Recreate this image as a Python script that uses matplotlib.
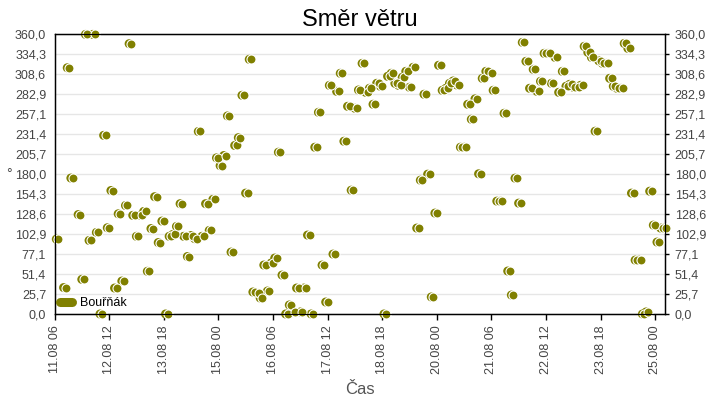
import matplotlib
matplotlib.use("Agg")
import matplotlib.pyplot as plt
from matplotlib.lines import Line2D
from matplotlib.transforms import offset_copy
import numpy as np
import pandas as pd

plt.rcParams['font.family'] = ['Liberation Sans', 'DejaVu Sans']

# hours since 11.08 06:00
hours = [1, 5, 7, 9, 13, 15, 17, 19, 21, 23, 25, 27, 29, 31, 33, 35, 37, 39, 41, 43,
         45, 47, 49, 51, 53, 55, 57, 59, 61, 63, 65, 67, 69, 71, 73, 75, 77, 79, 81, 83,
         85, 87, 89, 91, 93, 95, 97, 99, 101, 103, 105, 107, 109, 111, 113, 115, 117, 119, 121, 123,
         125, 127, 129, 131, 133, 135, 137, 139, 141, 143, 145, 147, 149, 151, 153, 155, 157, 159, 161, 163,
         165, 167, 169, 171, 173, 175, 177, 179, 181, 183, 185, 187, 189, 191, 193, 195, 197, 199, 201, 203,
         205, 207, 209, 211, 213, 215, 217, 219, 221, 223, 225, 227, 229, 231, 233, 235, 237, 239, 241, 243,
         245, 247, 249, 251, 253, 255, 257, 259, 261, 263, 265, 267, 269, 271, 273, 275, 277, 279, 281, 283,
         285, 287, 289, 291, 293, 295, 297, 299, 301, 303, 305, 307, 309, 311, 313, 315, 317, 319, 321, 323,
         325, 327, 329, 331, 333, 335]
direction = [96.4, 34, 317, 175, 128, 44.6, 360, 94.7, 360, 105, 0, 230, 111, 159, 33.4, 129, 42.4, 139.7, 348, 127,
             100, 127, 132, 55, 110, 151, 92, 119.6, 0, 100, 102.5, 112.8, 142, 100, 74, 101, 97, 235, 100, 142,
             107.6, 147.5, 201, 191, 204, 255, 79.7, 217, 227, 281.6, 155.6, 327.9, 28.3, 27, 20.6, 63, 29.6, 65.6, 72, 208.3,
             50.1, 0, 11.6, 2.6, 33.4, 2.6, 33.4, 101.6, 0, 214.7, 259.7, 63, 15.4, 294.4, 77.1, 286.7, 309.9, 222.4, 267.4, 159.4,
             264.9, 288.4, 322.7, 285.4, 290.6, 270, 297, 293.2, 0, 306, 309.9, 297, 294.4, 304.7, 312.4, 291.9, 317.6, 110.6, 172.3, 282.9,
             180, 21.9, 129.9, 320.2, 288, 290.6, 297, 300, 294.9, 214.7, 214.7, 270, 250.7, 276.9, 180.5, 303.4, 312.4, 309.9, 288, 145.3,
             145.3, 258.4, 55.3, 24.4, 174.9, 142.7, 349.7, 325.3, 290.6, 315, 286.7, 299.6, 335.6, 335.6, 297, 330.4, 285.4, 312.4, 293.2, 295.7,
             291.9, 291.9, 294.4, 344.6, 336.9, 330.4, 235.3, 326, 322.7, 322.7, 303.4, 293.2, 290.6, 290.6, 348.4, 342, 155.6, 69.4, 69.4, 0,
             2.6, 158.1, 114.4, 92.6, 110.6, 110.6]
series_name = "Bouřňák"
start = pd.Timestamp("2024-08-11 06:00")
tick_hours = [0, 30, 60, 90, 120, 150, 180, 210, 240, 270, 300, 330]
ytick_values = list(np.linspace(0, 360, 15))

times = [start + pd.Timedelta(hours=h) for h in hours]
olive = '#808000'
tcolor = '#444444'

fig = plt.figure(figsize=(7.2, 4.0), dpi=100)
ax = fig.add_axes([0.0757, 0.215, 0.8479, 0.699])

ax.scatter(times, direction, s=42, c=olive, edgecolors='none', zorder=3, clip_on=False)
ax.scatter(times, direction, s=42, c=olive, edgecolors='white', linewidths=0.8, zorder=4, clip_on=False,
           transform=offset_copy(ax.transData, fig=fig, x=2, y=0, units='dots'))

ax.set_ylim(0, 360)
ax.set_xlim(start, start + pd.Timedelta(hours=335.4))
ax.set_yticks(ytick_values)
ylabels = [f"{v:.1f}".replace('.', ',') for v in ytick_values]
ax.set_yticklabels(ylabels)
ax.yaxis.grid(True, color='#e6e6e6', linewidth=1, zorder=0)
ax.set_axisbelow(True)
ax.tick_params(axis='y', length=0, pad=6, labelsize=9, labelcolor=tcolor)

xt = [start + pd.Timedelta(hours=h) for h in tick_hours]
ax.set_xticks(xt)
ax.set_xticklabels([t.strftime('%d.%m %H') for t in xt], rotation=90)
ax.tick_params(axis='x', length=4, width=1, pad=4, labelsize=9, labelcolor=tcolor)

for s in ax.spines.values():
    s.set_linewidth(1)
    s.set_color('black')

ax2 = ax.twinx()
ax2.set_ylim(0, 360)
ax2.set_yticks(ytick_values)
ax2.set_yticklabels(ylabels)
ax2.tick_params(axis='y', length=3, width=1, pad=4, labelsize=9, labelcolor=tcolor)

ax.set_title("Směr větru", fontsize=17, color='black', pad=6)
ax.set_xlabel("Čas", fontsize=12, color='#555555', labelpad=6)
fig.text(0.008, 0.565, "°", fontsize=10, color=tcolor, va='center')

handle = Line2D([], [], color=olive, lw=6.5, solid_capstyle='round')
ax.legend([handle], [series_name], loc='lower left', bbox_to_anchor=(0.0, 0.0),
          frameon=False, borderaxespad=0.1, borderpad=0.3, handlelength=1.0,
          handletextpad=0.6, fontsize=9)

fig.savefig("out.png", dpi=100)
